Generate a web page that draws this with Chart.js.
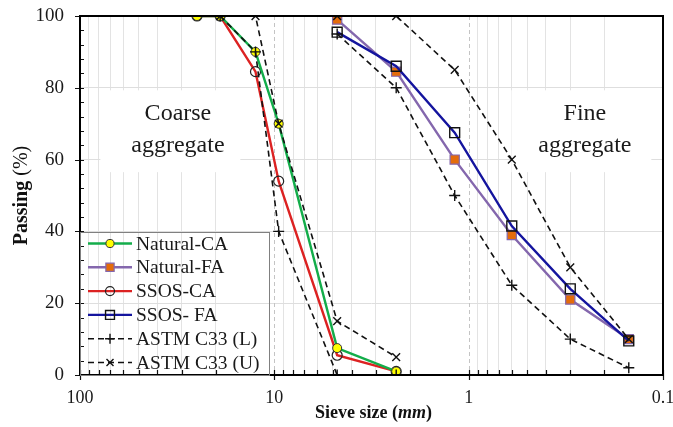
<!DOCTYPE html>
<html><head><meta charset="utf-8">
<script src="https://cdn.jsdelivr.net/npm/chart.js@4.4.1/dist/chart.umd.min.js"></script>
<style>html,body{margin:0;padding:0;background:#fff}#wrap{width:673px;height:427px}</style>
</head><body><div id="wrap"><canvas id="c" width="673" height="427"></canvas></div>
<script>
// ---- data ----
const caSieves = [25, 19, 12.5, 9.5, 4.75, 2.36];
const faSieves = [4.75, 2.36, 1.18, 0.6, 0.3, 0.15];
const naturalCA = [100, 100, 90, 70, 7.5, 1];
const ssosCA = [100, 100, 84.5, 54, 5.5, 1];
const naturalFA = [99, 84.5, 60, 39, 21, 10];
const ssosFA = [95.5, 86, 67.5, 41.5, 24, 9.5];
const astmCaSieves = [19, 12.5, 9.5, 4.75, 2.36];
const astmLowerCA = [100, 90, 40, 0, 0];
const astmUpperCA = [100, 100, 70, 15, 5];
const astmLowerFA = [95, 80, 50, 25, 10, 2];
const astmUpperFA = [100, 100, 85, 60, 30, 10];
const xMajorValues = [100, 10, 1, 0.1];
const xTickLabels = ['100', '10', '1', '0.1'];
const regionLabels = [['Coarse', 'aggregate'], ['Fine', 'aggregate']];

const FONT = "'Liberation Serif', 'Times New Roman', serif";
const pts = (xs, ys) => xs.map((x, i) => ({x: x, y: ys[i]}));

const xTickValues = [];
[-1, 0, 1].forEach(e => { for (let m = 1; m <= 9; m++) xTickValues.push(parseFloat((m * Math.pow(10, e)).toFixed(3))); });
xTickValues.push(100);

const GREEN = '#13ad4a', PURPLE = '#8467ad', ORANGE = '#e46c0a', RED = '#dc2222', BLUE = '#14149e';

const datasets = [
  {label: 'ASTM C33 (L)', legend: true, data: pts(astmCaSieves, astmLowerCA), borderColor: '#111', borderWidth: 1.6, borderDash: [6, 4],
   pointStyle: 'cross', pointRadius: 5.5, pointBorderWidth: 1.4, pointBorderColor: '#111', pointBackgroundColor: '#111', order: 0},
  {label: 'ASTM C33 (L)', legend: false, data: pts(faSieves, astmLowerFA), borderColor: '#111', borderWidth: 1.6, borderDash: [6, 4],
   pointStyle: 'cross', pointRadius: 5.5, pointBorderWidth: 1.4, pointBorderColor: '#111', pointBackgroundColor: '#111', order: 0},
  {label: 'ASTM C33 (U)', legend: true, data: pts(astmCaSieves, astmUpperCA), borderColor: '#111', borderWidth: 1.6, borderDash: [6, 4],
   pointStyle: 'crossRot', pointRadius: 5.5, pointBorderWidth: 1.4, pointBorderColor: '#111', pointBackgroundColor: '#111', order: 0},
  {label: 'ASTM C33 (U)', legend: false, data: pts(faSieves, astmUpperFA), borderColor: '#111', borderWidth: 1.6, borderDash: [6, 4],
   pointStyle: 'crossRot', pointRadius: 5.5, pointBorderWidth: 1.4, pointBorderColor: '#111', pointBackgroundColor: '#111', order: 0},
  {label: 'Natural-CA', legend: true, data: pts(caSieves, naturalCA), borderColor: GREEN, borderWidth: 2.4,
   pointStyle: 'circle', pointRadius: 4.5, pointBorderWidth: 1, pointBorderColor: '#333', pointBackgroundColor: '#ffff00', order: 2},
  {label: 'Natural-FA', legend: true, data: pts(faSieves, naturalFA), borderColor: PURPLE, borderWidth: 2.4,
   pointStyle: 'rect', pointRadius: 6.5, pointBorderWidth: 1.2, pointBorderColor: PURPLE, pointBackgroundColor: ORANGE, order: 2},
  {label: 'SSOS-CA', legend: true, data: pts(caSieves, ssosCA), borderColor: RED, borderWidth: 2.4,
   pointStyle: 'circle', pointRadius: 5, pointBorderWidth: 1.2, pointBorderColor: '#222', pointBackgroundColor: 'rgba(255,255,255,0)', order: 3},
  {label: 'SSOS- FA', legend: true, data: pts(faSieves, ssosFA), borderColor: BLUE, borderWidth: 2.4,
   pointStyle: 'rect', pointRadius: 7, pointBorderWidth: 1.4, pointBorderColor: '#111', pointBackgroundColor: 'rgba(255,255,255,0)', order: 1}
];
datasets.forEach(d => { d.fill = false; d.tension = 0; d.backgroundColor = d.borderColor; });

const legendOrder = ['Natural-CA', 'Natural-FA', 'SSOS-CA', 'SSOS- FA', 'ASTM C33 (L)', 'ASTM C33 (U)'];

const decor = {
  id: 'decor',
  beforeDatasetsDraw(chart) {
    const {ctx, chartArea: ca, scales} = chart;
    const w = ca.right - ca.left, h = ca.bottom - ca.top;
    ctx.save();
    // dashed major vertical grid lines (10 and 1), positioned by the x scale
    ctx.strokeStyle = '#c4c4c4';
    ctx.lineWidth = 1;
    ctx.setLineDash([4, 3]);
    ctx.beginPath();
    scales.x.ticks.forEach(t => {
      if (t.value === 10 || t.value === 1) {
        const px = Math.round(scales.x.getPixelForValue(t.value)) + 0.5;
        ctx.moveTo(px, ca.top);
        ctx.lineTo(px, ca.bottom);
      }
    });
    ctx.stroke();
    ctx.setLineDash([]);
    ctx.fillStyle = '#fff';
    ctx.fillRect(ca.left + 0.035 * w, ca.top + 0.207 * h, 0.24 * w, 0.228 * h);
    ctx.fillRect(ca.left + 0.74 * w, ca.top + 0.207 * h, 0.24 * w, 0.228 * h);
    ctx.fillStyle = '#1a1a1a';
    ctx.font = '24px ' + FONT;
    ctx.textAlign = 'center';
    ctx.textBaseline = 'middle';
    const cx = [ca.left + 0.168 * w, ca.left + 0.866 * w];
    regionLabels.forEach((lines, i) => {
      ctx.fillText(lines[0], cx[i], ca.top + 0.272 * h);
      ctx.fillText(lines[1], cx[i], ca.top + 0.36 * h);
    });
    ctx.restore();
  },
  afterDraw(chart) {
    const {ctx, chartArea: ca, scales} = chart;
    const xs = scales.x, ys = scales.y;
    ctx.save();
    // inner tick marks
    ctx.strokeStyle = '#111';
    ctx.lineWidth = 1.2;
    ctx.beginPath();
    xs.ticks.forEach(t => {
      const px = Math.round(xs.getPixelForValue(t.value)) + 0.5;
      const major = xMajorValues.includes(t.value);
      ctx.moveTo(px, ca.bottom + (major ? 5 : 0));
      ctx.lineTo(px, ca.bottom - 5);
    });
    ys.ticks.forEach(t => {
      const py = Math.round(ys.getPixelForValue(t.value)) + 0.5;
      const major = t.value % 20 === 0;
      ctx.moveTo(ca.left - (major ? 5 : 0), py);
      ctx.lineTo(ca.left + 4, py);
    });
    ctx.stroke();
    // frame
    ctx.strokeStyle = '#000';
    ctx.lineWidth = 2;
    ctx.strokeRect(ca.left, ca.top, ca.right - ca.left, ca.bottom - ca.top);
    // axis titles
    ctx.fillStyle = '#111';
    ctx.textBaseline = 'middle';
    ctx.textAlign = 'left';
    const parts = [['Sieve size (', 'bold 18px ' + FONT], ['mm', 'italic bold 18px ' + FONT], [')', 'bold 18px ' + FONT]];
    let tw = 0;
    parts.forEach(p => { ctx.font = p[1]; tw += ctx.measureText(p[0]).width; });
    let x0 = (ca.left + ca.right) / 2 + 2 - tw / 2;
    parts.forEach(p => { ctx.font = p[1]; ctx.fillText(p[0], x0, 413); x0 += ctx.measureText(p[0]).width; });
    ctx.save();
    ctx.translate(22, (ca.top + ca.bottom) / 2);
    ctx.rotate(-Math.PI / 2);
    const yparts = [['Passing ', 'bold 20px ' + FONT], ['(%)', '20px ' + FONT]];
    tw = 0;
    yparts.forEach(p => { ctx.font = p[1]; tw += ctx.measureText(p[0]).width; });
    x0 = -tw / 2;
    yparts.forEach(p => { ctx.font = p[1]; ctx.fillText(p[0], x0, 0); x0 += ctx.measureText(p[0]).width; });
    ctx.restore();
    // legend
    const bx = ca.left, bw = 189, bh = 143, by = ca.bottom - bh;
    ctx.strokeStyle = '#808080';
    ctx.lineWidth = 1;
    ctx.strokeRect(bx + 0.5, by + 0.5, bw, bh);
    ctx.font = '19.5px ' + FONT;
    ctx.textAlign = 'left';
    legendOrder.forEach((name, i) => {
      const d = chart.data.datasets.find(ds => ds.label === name && ds.legend);
      const y = by + 11.5 + i * 23.8;
      ctx.save();
      ctx.strokeStyle = d.borderColor;
      ctx.lineWidth = d.borderWidth;
      ctx.setLineDash(d.borderDash || []);
      ctx.beginPath();
      ctx.moveTo(bx + 8, y);
      ctx.lineTo(bx + 52, y);
      ctx.stroke();
      ctx.setLineDash([]);
      ctx.fillStyle = d.pointBackgroundColor;
      ctx.strokeStyle = d.pointBorderColor;
      ctx.lineWidth = d.pointBorderWidth;
      Chart.helpers.drawPoint(ctx, {pointStyle: d.pointStyle, radius: d.pointRadius * 0.9, rotation: 0, borderWidth: d.pointBorderWidth}, bx + 30, y);
      ctx.restore();
      ctx.fillStyle = '#1a1a1a';
      ctx.fillText(name, bx + 56, y + 1);
    });
    ctx.restore();
  }
};

new Chart(document.getElementById('c'), {
  type: 'line',
  data: {datasets: datasets},
  plugins: [decor],
  options: {
    responsive: false,
    animation: false,
    devicePixelRatio: 1,
    layout: {padding: {top: 16, right: 10, left: 0, bottom: 0}},
    plugins: {legend: {display: false}, tooltip: {enabled: false}},
    elements: {line: {borderCapStyle: 'butt'}},
    scales: {
      x: {
        type: 'logarithmic', reverse: true, min: 0.1, max: 100,
        afterBuildTicks: s => { s.ticks = xTickValues.map(v => ({value: v, major: xMajorValues.includes(v)})); },
        afterFit: s => { s.height = 52; s.paddingRight = 0; s.paddingLeft = 0; },
        border: {display: false},
        grid: {
          drawTicks: false,
          color: c => (c.tick && xMajorValues.includes(c.tick.value)) ? 'rgba(0,0,0,0)' : '#e3e3e3',
          lineWidth: 1
        },
        ticks: {
          autoSkip: false, maxRotation: 0, minRotation: 0, padding: 12, color: '#1a1a1a',
          font: {family: FONT, size: 18},
          callback: (v) => { const i = xMajorValues.indexOf(v); return i >= 0 ? xTickLabels[i] : ''; }
        }
      },
      y: {
        min: 0, max: 100,
        afterFit: s => { s.width = 80; s.paddingTop = 0; s.paddingBottom = 0; },
        border: {display: false},
        grid: {
          drawTicks: false,
          color: c => (c.tick && c.tick.value % 20 === 0 && c.tick.value !== 0 && c.tick.value !== 100) ? '#dedede' : 'rgba(0,0,0,0)',
          lineWidth: 1
        },
        ticks: {
          stepSize: 4, autoSkip: false, padding: 16, color: '#1a1a1a',
          font: {family: FONT, size: 19},
          callback: (v) => v % 20 === 0 ? String(v) : ''
        }
      }
    }
  }
});
</script></body></html>
